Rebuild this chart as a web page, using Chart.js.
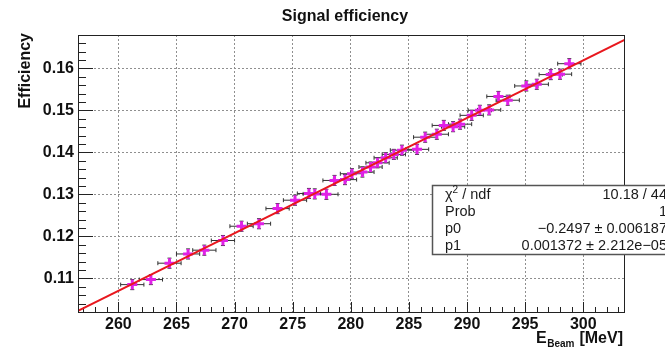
<!DOCTYPE html>
<html>
<head>
<meta charset="utf-8">
<script src="https://cdn.jsdelivr.net/npm/chart.js@4/dist/chart.umd.min.js"></script>
<style>
  html, body { margin: 0; padding: 0; background: #fff; }
  canvas { display: block; }
</style>
</head>
<body>
<canvas id="c" width="665" height="348"></canvas>
<script>
// Beam energy [MeV] of each measurement
const energies = [261.2, 262.8, 264.4, 266.0, 267.4, 269.0, 270.6, 272.1, 273.7, 275.2,
                  276.4, 276.9, 277.9, 278.6, 279.5, 280.1, 281.0, 281.7, 282.3, 283.0,
                  283.7, 284.4, 285.7, 286.4, 287.4, 288.0, 288.8, 289.4, 290.4, 291.1,
                  291.9, 292.7, 293.5, 295.1, 296.0, 297.2, 298.0, 298.8];
// Signal efficiency at each energy
const efficiency = [0.1085, 0.1097, 0.1136, 0.1158, 0.1167, 0.1190, 0.1224, 0.1230, 0.1266, 0.1286,
                    0.1302, 0.1301, 0.1300, 0.1333, 0.1335, 0.1349, 0.1353, 0.1365, 0.1375, 0.1387,
                    0.1395, 0.1405, 0.1407, 0.1436, 0.1443, 0.1464, 0.1461, 0.1467, 0.1488, 0.1500,
                    0.1501, 0.1533, 0.1524, 0.1558, 0.1562, 0.1585, 0.1586, 0.1611];
// Uncertainties (same for every point)
const energyErr = 1.0;
const effErr = 0.0012;

// Linear fit result p0 + p1*E
const fitP0 = -0.2497;
const fitP1 = 0.001372;

// Axis ranges and tick labels
const xRange = [256.53, 303.59];
const yRange = [0.10198, 0.16793];
const xTicks = [260, 265, 270, 275, 280, 285, 290, 295, 300];
const yTicks = [0.11, 0.12, 0.13, 0.14, 0.15, 0.16];

// Fit statistics box rows
const statRows = [
  ['χ2 / ndf', '10.18 / 44'],
  ['Prob', '1'],
  ['p0', '\u22120.2497 \u00b1 0.006187'],
  ['p1', '0.001372 \u00b1 2.212e\u221205']
];

const FONT = '"Liberation Sans", Arial, Helvetica, sans-serif';

const points = energies.map((e, i) => ({ x: e, y: efficiency[i] }));
const fitLine = xRange.map(e => ({ x: e, y: fitP0 + fitP1 * e }));

const framePlugin = {
  id: 'frame',
  beforeDatasetsDraw(chart) {
    const { ctx, chartArea: a, scales: { x, y } } = chart;
    ctx.save();
    // minor / major tick marks, drawn inward from left and bottom edges
    ctx.strokeStyle = '#222';
    ctx.lineWidth = 1;
    ctx.beginPath();
    for (let k = 102; k <= 167; k += 2) {
      const v = k / 1000;
      const py = Math.round(y.getPixelForValue(v)) + 0.5;
      const len = (k % 10 === 0) ? 15 : 8;
      ctx.moveTo(a.left, py); ctx.lineTo(a.left + len, py);
    }
    for (let e = 257; e <= 303; e += 1) {
      const px = Math.round(x.getPixelForValue(e)) + 0.5;
      const len = (e % 5 === 0) ? 10 : 5;
      ctx.moveTo(px, a.bottom); ctx.lineTo(px, a.bottom - len);
    }
    ctx.stroke();
    // error bars
    ctx.strokeStyle = '#333';
    ctx.lineWidth = 1;
    ctx.beginPath();
    points.forEach(p => {
      const cx = x.getPixelForValue(p.x), cy = y.getPixelForValue(p.y);
      const x0 = x.getPixelForValue(p.x - energyErr), x1 = x.getPixelForValue(p.x + energyErr);
      const y0 = y.getPixelForValue(p.y - effErr), y1 = y.getPixelForValue(p.y + effErr);
      ctx.moveTo(x0, cy); ctx.lineTo(x1, cy);
      ctx.moveTo(cx, y0); ctx.lineTo(cx, y1);
      ctx.moveTo(x0, cy - 2); ctx.lineTo(x0, cy + 2);
      ctx.moveTo(x1, cy - 2); ctx.lineTo(x1, cy + 2);
      ctx.moveTo(cx - 2, y0); ctx.lineTo(cx + 2, y0);
      ctx.moveTo(cx - 2, y1); ctx.lineTo(cx + 2, y1);
    });
    ctx.stroke();
    ctx.restore();
  },
  afterDraw(chart) {
    const { ctx, chartArea: a } = chart;
    ctx.save();
    // plot frame
    ctx.strokeStyle = '#222';
    ctx.lineWidth = 1;
    ctx.strokeRect(a.left + 0.5, a.top + 0.5, a.right - a.left - 1, a.bottom - a.top);

    // title
    ctx.fillStyle = '#111';
    ctx.font = 'bold 16px ' + FONT;
    ctx.textAlign = 'center';
    ctx.textBaseline = 'middle';
    ctx.fillText('Signal efficiency', 345, 17);

    // y axis title (rotated, aligned to top)
    ctx.save();
    ctx.translate(26, 33);
    ctx.rotate(-Math.PI / 2);
    ctx.textAlign = 'right';
    ctx.textBaseline = 'middle';
    ctx.fillText('Efficiency', 0, 0);
    ctx.restore();

    // x axis title: E_Beam [MeV], right aligned to frame edge
    ctx.textAlign = 'left';
    ctx.textBaseline = 'alphabetic';
    const big = 'bold 16px ' + FONT, small = 'bold 10px ' + FONT;
    ctx.font = big; const wE = ctx.measureText('E').width; const wU = ctx.measureText(' [MeV]').width;
    ctx.font = small; const wS = ctx.measureText('Beam').width;
    let tx = a.right - 2 - (wE + wS + 1 + wU);
    const by = 343;
    ctx.font = big; ctx.fillText('E', tx, by); tx += wE + 0.5;
    ctx.font = small; ctx.fillText('Beam', tx, by + 4); tx += wS + 0.5;
    ctx.font = big; ctx.fillText(' [MeV]', tx, by);

    // fit statistics box
    const bx = 432, bt = 185, bb = 254;
    ctx.fillStyle = '#fff';
    ctx.fillRect(bx, bt, 260, bb - bt);
    ctx.strokeStyle = '#555';
    ctx.lineWidth = 1.5;
    ctx.strokeRect(bx + 0.5, bt + 0.5, 260, bb - bt);
    ctx.fillStyle = '#1a1a1a';
    ctx.textBaseline = 'middle';
    const sf = '14.5px ' + FONT;
    statRows.forEach((row, i) => {
      const ry = 195 + i * 17;
      ctx.font = sf;
      ctx.textAlign = 'left';
      if (i === 0) {
        ctx.fillText('χ', 445, ry);
        const wc = ctx.measureText('χ').width;
        ctx.font = '10px ' + FONT;
        ctx.fillText('2', 445 + wc, ry - 5);
        const w2 = ctx.measureText('2').width;
        ctx.font = sf;
        ctx.fillText(' / ndf', 445 + wc + w2, ry);
      } else {
        ctx.fillText(row[0], 445, ry);
      }
      ctx.textAlign = 'right';
      ctx.fillText(row[1], 667, ry);
    });
    ctx.restore();
  }
};

new Chart(document.getElementById('c'), {
  type: 'scatter',
  data: {
    datasets: [
      {
        type: 'line',
        data: fitLine,
        borderColor: '#e8171d',
        borderWidth: 2,
        pointRadius: 0,
        fill: false,
        tension: 0
      },
      {
        data: points,
        pointStyle: 'cross',
        pointRadius: 5,
        borderWidth: 3,
        borderColor: '#e021e6',
        backgroundColor: '#e021e6'
      }
    ]
  },
  options: {
    responsive: false,
    animation: false,
    devicePixelRatio: 1,
    layout: { padding: { top: 35, right: 40, left: 0, bottom: 0 } },
    plugins: { legend: { display: false }, tooltip: { enabled: false }, title: { display: false } },
    scales: {
      x: {
        type: 'linear',
        min: xRange[0],
        max: xRange[1],
        afterBuildTicks: s => { s.ticks = xTicks.map(v => ({ value: v })); },
        afterFit: s => { s.height = 36; },
        ticks: {
          color: '#111',
          font: { family: FONT, size: 16, weight: 'bold' },
          padding: 3,
          maxRotation: 0,
          autoSkip: false,
          callback: v => String(v)
        },
        grid: { color: '#8f8f8f', lineWidth: 1, drawTicks: false, borderDash: [2, 2] },
        border: { display: false, dash: [2, 2] }
      },
      y: {
        type: 'linear',
        min: yRange[0],
        max: yRange[1],
        afterBuildTicks: s => { s.ticks = yTicks.map(v => ({ value: v })); },
        afterFit: s => { s.width = 78; },
        ticks: {
          color: '#111',
          font: { family: FONT, size: 16, weight: 'bold' },
          padding: 4,
          autoSkip: false,
          callback: v => v.toFixed(2)
        },
        grid: { color: '#8f8f8f', lineWidth: 1, drawTicks: false, borderDash: [2, 2] },
        border: { display: false, dash: [2, 2] }
      }
    }
  },
  plugins: [framePlugin]
});
</script>
</body>
</html>
